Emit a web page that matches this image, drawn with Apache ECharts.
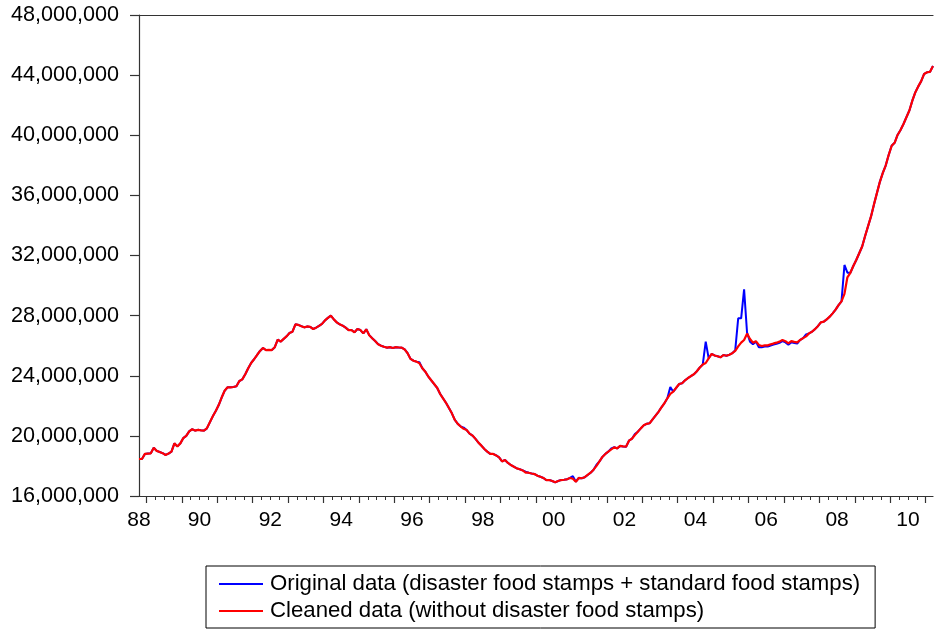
<!DOCTYPE html>
<html>
<head>
<meta charset="utf-8">
<script src="https://cdn.jsdelivr.net/npm/echarts@6/dist/echarts.min.js"></script>
<style>
html,body{margin:0;padding:0;background:#fff;}
#chart{width:934px;height:632px;}
</style>
</head>
<body>
<div id="chart"></div>
<script>
// Monthly series, October 1988 .. March 2011 (index 0 = Oct 1988), millions of persons
const firstYear = 1988;
const firstMonth = 10;
const seriesNames = [
  'Original data (disaster food stamps + standard food stamps)',
  'Cleaned data (without disaster food stamps)'
];
const cleaned = [
  18.46,18.46,18.80,18.82,18.84,19.21,19.00,18.93,18.85,18.73,18.82,18.95,
  19.50,19.30,19.50,19.85,20.00,20.30,20.44,20.35,20.40,20.37,20.35,20.50,
  20.90,21.30,21.65,22.05,22.55,23.00,23.23,23.23,23.25,23.30,23.65,23.76,
  24.10,24.50,24.85,25.10,25.38,25.65,25.85,25.71,25.72,25.71,25.90,26.40,
  26.27,26.45,26.62,26.85,26.93,27.42,27.38,27.30,27.22,27.28,27.25,27.11,
  27.20,27.32,27.45,27.68,27.85,28.00,27.75,27.55,27.42,27.33,27.20,27.04,
  27.04,26.89,27.11,27.04,26.82,27.09,26.70,26.50,26.31,26.10,26.00,25.93,
  25.87,25.90,25.85,25.90,25.88,25.87,25.75,25.50,25.12,25.00,24.94,24.83,
  24.50,24.27,23.95,23.70,23.45,23.20,22.80,22.50,22.20,21.85,21.50,21.06,
  20.80,20.62,20.47,20.39,20.15,20.02,19.80,19.55,19.35,19.13,18.95,18.80,
  18.80,18.70,18.57,18.30,18.40,18.20,18.06,17.95,17.84,17.78,17.70,17.55,
  17.55,17.50,17.46,17.35,17.28,17.20,17.06,17.06,17.00,16.91,17.00,17.06,
  17.08,17.11,17.20,17.15,16.95,17.20,17.18,17.25,17.40,17.55,17.75,18.00,
  18.30,18.60,18.80,18.95,19.10,19.24,19.17,19.33,19.30,19.28,19.68,19.81,
  20.06,20.28,20.50,20.70,20.80,20.84,21.10,21.35,21.60,21.90,22.17,22.50,
  22.80,22.94,23.20,23.45,23.50,23.70,23.85,23.98,24.10,24.30,24.55,24.75,
  24.85,25.16,25.45,25.35,25.30,25.23,25.38,25.33,25.40,25.50,25.65,25.95,
  26.20,26.38,26.80,26.45,26.20,26.30,26.05,25.98,26.02,26.02,26.09,26.15,
  26.20,26.27,26.38,26.30,26.15,26.30,26.25,26.22,26.38,26.50,26.62,26.82,
  26.93,27.10,27.30,27.55,27.60,27.75,27.93,28.15,28.40,28.70,28.95,29.45,
  30.55,30.85,31.30,31.70,32.15,32.60,33.30,33.95,34.60,35.40,36.15,36.90,
  37.50,38.00,38.70,39.30,39.50,40.02,40.35,40.75,41.20,41.65,42.30,42.85,
  43.25,43.60,44.08,44.19,44.22,44.61
];
const original = [
  18.46,18.46,18.80,18.82,18.84,19.21,19.00,18.93,18.85,18.73,18.82,18.95,
  19.50,19.30,19.50,19.85,20.00,20.30,20.44,20.35,20.40,20.37,20.35,20.50,
  20.90,21.30,21.65,22.05,22.55,23.00,23.23,23.23,23.25,23.30,23.65,23.76,
  24.10,24.50,24.85,25.10,25.38,25.65,25.85,25.71,25.72,25.71,25.90,26.40,
  26.27,26.45,26.62,26.85,26.93,27.42,27.38,27.30,27.22,27.28,27.25,27.11,
  27.20,27.32,27.45,27.68,27.85,28.00,27.75,27.55,27.42,27.33,27.20,27.04,
  27.04,26.89,27.11,27.04,26.82,27.09,26.70,26.50,26.31,26.10,26.00,25.93,
  25.87,25.90,25.85,25.90,25.88,25.87,25.75,25.50,25.12,25.00,24.94,24.90,
  24.50,24.27,23.95,23.70,23.45,23.20,22.80,22.50,22.20,21.85,21.50,21.06,
  20.80,20.62,20.55,20.39,20.15,20.02,19.80,19.55,19.35,19.13,18.95,18.80,
  18.80,18.70,18.57,18.30,18.40,18.20,18.06,17.95,17.84,17.78,17.70,17.62,
  17.55,17.50,17.46,17.35,17.28,17.20,17.06,17.06,17.00,16.91,17.00,17.06,
  17.08,17.11,17.20,17.32,16.95,17.20,17.18,17.25,17.40,17.55,17.75,18.08,
  18.30,18.60,18.80,18.95,19.17,19.24,19.17,19.33,19.30,19.28,19.68,19.81,
  20.12,20.28,20.50,20.70,20.80,20.84,21.10,21.35,21.60,21.90,22.17,22.50,
  23.25,22.94,23.20,23.45,23.50,23.70,23.85,23.98,24.10,24.30,24.55,24.75,
  26.27,25.16,25.45,25.35,25.30,25.23,25.38,25.33,25.40,25.50,25.70,27.82,
  27.82,29.75,26.87,26.27,26.10,26.27,25.90,25.90,25.94,25.94,26.01,26.07,
  26.12,26.19,26.30,26.22,26.07,26.22,26.17,26.14,26.38,26.50,26.75,26.82,
  26.93,27.10,27.30,27.55,27.60,27.75,27.93,28.15,28.40,28.70,28.95,31.37,
  30.86,30.85,31.30,31.70,32.15,32.60,33.30,33.95,34.60,35.40,36.15,36.90,
  37.50,38.00,38.70,39.30,39.50,40.02,40.35,40.75,41.20,41.65,42.30,42.85,
  43.25,43.60,44.08,44.19,44.22,44.61
];
const yearLabels = ['88','90','92','94','96','98','00','02','04','06','08','10'];
const yTicks = [16000000,20000000,24000000,28000000,32000000,36000000,40000000,44000000,48000000];

const UNIT = 1e6;
const nMonths = cleaned.length;
const lastIdx = nMonths - 1;
// month index of January of a given year (relative to first month)
const janIndex = y => (y - firstYear) * 12 - (firstMonth - 1);
// year boundaries sit halfway between December and January
const yearTicks = [];
for (let y = firstYear + 1; janIndex(y) - 0.5 <= lastIdx; y++) yearTicks.push(janIndex(y) - 0.5);
const quarterTicks = [];
for (let v = janIndex(firstYear + 1) - 0.5; v <= lastIdx; v += 3) quarterTicks.push(v);
const labelPos = {};
const labelVals = yearLabels.map(lbl => {
  const yy = parseInt(lbl, 10);
  const year = yy >= 50 ? 1900 + yy : 2000 + yy;
  let p = janIndex(year) + 5.5;
  if (p < 0) p = 0;
  labelPos[p] = lbl;
  return p;
});

const FONT = 'Liberation Sans, Arial, Helvetica, sans-serif';
const axisColor = '#333';

const chart = echarts.init(document.getElementById('chart'), null, {renderer: 'canvas'});
chart.setOption({
  animation: false,
  backgroundColor: '#fff',
  textStyle: {fontFamily: FONT},
  grid: {left: 139, right: 1, top: 15, bottom: 136, containLabel: false},
  legend: {
    data: seriesNames,
    orient: 'vertical',
    left: 206,
    top: 566,
    icon: 'rect',
    itemWidth: 44,
    itemHeight: 2,
    itemGap: 5,
    padding: [7, 15, 6, 13],
    borderColor: '#000',
    borderWidth: 1,
    borderRadius: 0,
    textStyle: {fontSize: 22.2, color: '#000', fontFamily: FONT, padding: [0, 0, 0, 2]}
  },
  xAxis: [
    {
      type: 'value', min: 0, max: lastIdx, position: 'bottom',
      axisLine: {show: true, onZero: false, lineStyle: {color: axisColor, width: 1.2}},
      axisTick: {show: true, customValues: yearTicks, length: 7, lineStyle: {color: axisColor, width: 1.2}},
      axisLabel: {show: true, customValues: labelVals, margin: 14, fontSize: 21, color: '#000', fontFamily: FONT,
        formatter: v => labelPos[v] !== undefined ? labelPos[v] : ''},
      splitLine: {show: false}
    },
    {
      type: 'value', min: 0, max: lastIdx, position: 'bottom',
      axisLine: {show: false, onZero: false},
      axisTick: {show: true, customValues: quarterTicks, length: 4, lineStyle: {color: axisColor, width: 1}},
      axisLabel: {show: false},
      splitLine: {show: false}
    },
    {
      type: 'value', min: 0, max: lastIdx, position: 'top',
      axisLine: {show: true, onZero: false, lineStyle: {color: axisColor, width: 1.2}},
      axisTick: {show: false}, axisLabel: {show: false}, splitLine: {show: false}
    }
  ],
  yAxis: {
    type: 'value', min: yTicks[0], max: yTicks[yTicks.length - 1], interval: yTicks[1] - yTicks[0],
    axisLine: {show: true, lineStyle: {color: axisColor, width: 1.2}},
    axisTick: {show: true, length: 9, lineStyle: {color: axisColor, width: 1.2}},
    axisLabel: {margin: 20, fontSize: 21.6, color: '#000', fontFamily: FONT,
      formatter: v => v.toLocaleString('en-US')},
    splitLine: {show: false}
  },
  series: [
    {
      name: seriesNames[0], type: 'line', xAxisIndex: 0, showSymbol: false, symbol: 'none',
      data: original.map((v, i) => [i, v * UNIT]),
      lineStyle: {color: '#0000ff', width: 2},
      itemStyle: {color: '#0000ff'}, z: 2
    },
    {
      name: seriesNames[1], type: 'line', xAxisIndex: 0, showSymbol: false, symbol: 'none',
      data: cleaned.map((v, i) => [i, v * UNIT]),
      lineStyle: {color: '#ff0000', width: 2.2},
      itemStyle: {color: '#ff0000'}, z: 3
    }
  ]
});
</script>
</body>
</html>
